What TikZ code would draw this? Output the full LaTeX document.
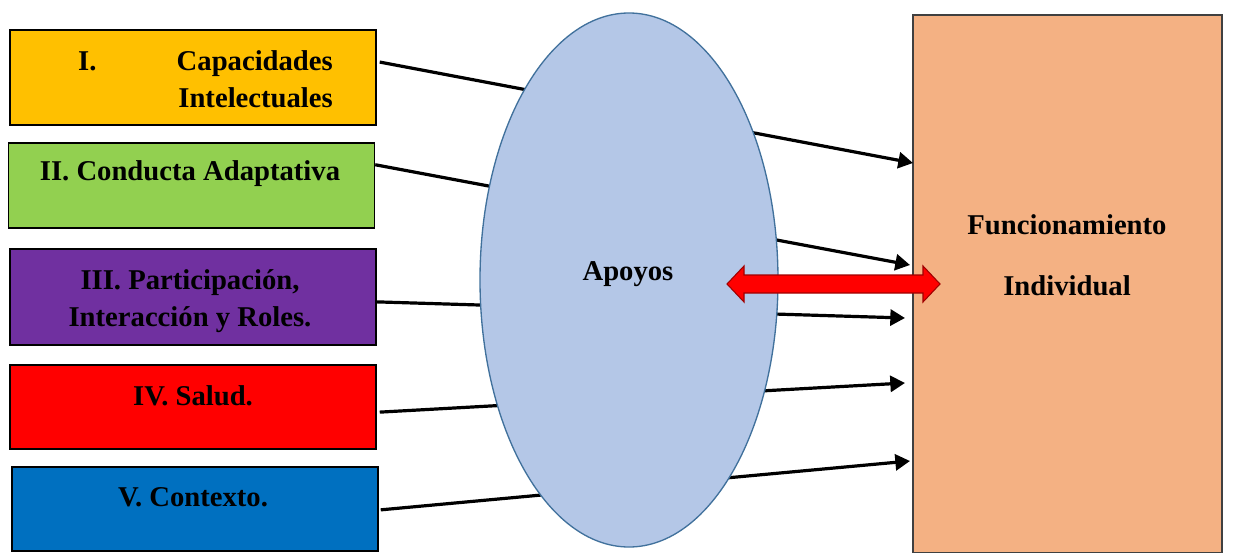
\documentclass[tikz,border=0pt]{standalone}
\usepackage{fontspec}
\setmainfont{Liberation Serif}
\usetikzlibrary{arrows.meta,calc,shapes.geometric}
\definecolor{cOrange}{HTML}{FFC000}
\definecolor{cGreen}{HTML}{92D050}
\definecolor{cPurple}{HTML}{7030A0}
\definecolor{cRed}{HTML}{FF0000}
\definecolor{cBlue}{HTML}{0070C0}
\definecolor{cEll}{HTML}{B4C7E7}
\definecolor{cEllB}{HTML}{41719C}
\definecolor{cPeach}{HTML}{F4B183}
\definecolor{cDarkRed}{HTML}{A00000}
\begin{document}
\begin{tikzpicture}[x=0.75pt,y=-0.75pt,
  dimbox/.style={draw=black,line width=1.1pt,rectangle,inner sep=0pt,minimum width=274.5pt},
  lbl/.style={font=\bfseries\fontsize{21.5}{27.75}\selectfont,text=black,inner sep=0pt,align=center},
  conn/.style={line width=2.4pt,draw=black,-{Triangle[length=11pt,width=12pt]}},
  bigarrow/.style={fill=cRed,draw=cDarkRed,line width=0.8pt,line join=miter}]
\useasboundingbox (0,0) rectangle (1236,553);
% right rectangle
\node[draw=black!75,line width=1.1pt,fill=cPeach,rectangle,inner sep=0pt,minimum width=231.75pt,minimum height=403.5pt] (fr) at (1067.5,284) {};
% boxes
\node[dimbox,fill=cOrange,minimum height=71.25pt] (b1) at (193,77.5) {};
\node[dimbox,fill=cGreen,minimum height=63.75pt] (b2) at (191.5,185.5) {};
\node[dimbox,fill=cPurple,minimum height=72pt] (b3) at (193,297) {};
\node[dimbox,fill=cRed,minimum height=63pt] (b4) at (193,407) {};
\node[dimbox,fill=cBlue,minimum height=63pt] (b5) at (195,509) {};
% arrow tips
\coordinate (t1) at (913,163);
\coordinate (t2) at (910,265);
\coordinate (t3) at (905,318);
\coordinate (t4) at (905,383);
\coordinate (t5) at (910,461);
% connectors
\draw[conn] ($(b1.north east)!0.34!(b1.south east)+(3,0)$) -- (t1);
\draw[conn] ($(b2.north east)!0.26!(b2.south east)$) -- (t2);
\draw[conn] ($(b3.north east)!0.55!(b3.south east)$) -- (t3);
\draw[conn] ($(b4.north east)!0.56!(b4.south east)+(3,0)$) -- (t4);
\draw[conn] ($(b5.north east)!0.51!(b5.south east)+(2,0)$) -- (t5);
% ellipse
\node[ellipse,draw=cEllB,line width=1pt,fill=cEll,inner sep=0pt,minimum width=223.5pt,minimum height=400.5pt] (ap) at (629,280) {};
% labels
\node[lbl,text width=191pt,align=left] (l1) at (205.5,79) {I.\hfill Capacidades\\\hfill Intelectuales};
\node[lbl] (l2) at (190,174) {II. Conducta Adaptativa};
\node[lbl] (l3) at (190,301) {III. Participación,\\Interacción y Roles.};
\node[lbl] (l4) at (193,396) {IV. Salud.};
\node[lbl] (l5) at (193,497) {V. Contexto.};
\node[lbl] (la) at (628,274) {Apoyos};
\node[lbl] (lf1) at (1067,225) {Funcionamiento};
\node[lbl] (lf2) at (1067,286) {Individual};
% red double arrow
\coordinate (ra) at (727,284);
\coordinate (rb) at (940,284);
\draw[bigarrow] (ra) -- ++(17,-18) -- ++(0,9) -- ($(rb)+(-17,-9)$) -- ++(0,-9) -- (rb) -- ++(-17,18) -- ++(0,-9) -- ($(ra)+(17,9)$) -- ++(0,9) -- cycle;
\end{tikzpicture}
\end{document}
